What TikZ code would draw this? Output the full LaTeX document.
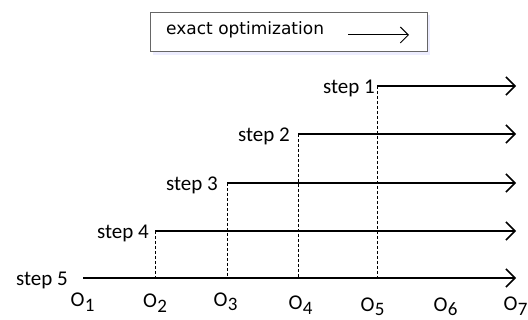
\documentclass[tikz,border=0pt]{standalone}
\usepackage{fontspec}
\setmainfont{Carlito}
\newfontfamily\legendfont{DejaVu Sans}
\usetikzlibrary{positioning}
\usetikzlibrary{arrows.meta,calc}

\newcommand{\objlab}[1]{O\kern0.3pt\raisebox{-4.5pt}{\fontsize{19}{19}\selectfont #1}}

\begin{document}
\begin{tikzpicture}[x=1pt,y=-1pt,
    flow/.style={-{Straight Barb[length=9pt,width=18pt,line width=1.5pt]},line width=1.6pt},
    guide/.style={dash pattern=on 3pt off 2pt,line width=1.4pt},
    steplabel/.style={anchor=base east,font=\fontsize{21}{23}\selectfont,inner sep=0pt},
    objlabel/.style={font=\fontsize{21}{23}\selectfont,inner sep=0pt,anchor=base}]

    \useasboundingbox (0,0) rectangle (528,320);

    % the legend box with its shadow
    \fill[blue!7] (153,15) rectangle (430,55);
    \node[draw=black!60,line width=0.9pt,fill=white,minimum width=277pt,minimum height=39pt,inner sep=0pt] (legend) at (288.5,32) {};
    \node[anchor=west,font=\legendfont\fontsize{17}{19}\selectfont,inner sep=0pt] (legendtext) at (166,29.5) {exact optimization};
    \coordinate (la) at (348,35);
    \coordinate (lb) at (409,35);
    \draw[-{Straight Barb[length=8pt,width=16pt,line width=1pt]},line width=1pt] (la) -- (lb);

    % the steps: start, arrow and label
    \foreach \n/\x/\y/\lx in {1/377/86/375,2/298/134/290,3/227/183/218,4/155/231/149,5/83/278/68} {
        \coordinate (s\n) at (\x,\y);
        \coordinate (e\n) at (516,\y);
        \coordinate (b\n) at (\x,278);
        \node[steplabel] (l\n) at (\lx,\y+7.5) {step \n};
        \draw[flow] (s\n) -- (e\n);
    }

    % the dotted drops down to the last step
    \foreach \n in {1,...,4}
        \draw[guide] ([xshift=0.6pt]s\n) -- ([xshift=0.6pt]b\n);

    % the objective labels under the axis
    \foreach \n/\x/\y in {1/82.5/307,2/155/308,3/225.5/306.5,4/300.5/310,5/372.5/311.5,6/445.5/311.5,7/515.5/311}
        \node[objlabel] (o\n) at (\x,\y) {\objlab{\n}};
\end{tikzpicture}
\end{document}
